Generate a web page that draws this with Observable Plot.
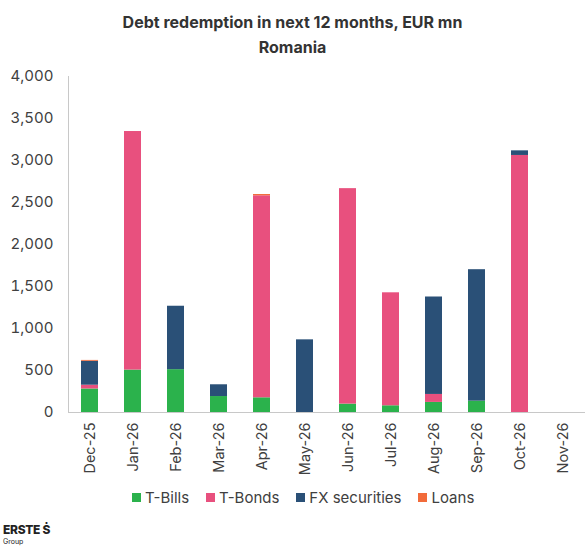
<!DOCTYPE html>
<html>
<head>
<meta charset="utf-8">
<script src="https://cdn.jsdelivr.net/npm/d3@7"></script>
<script src="https://cdn.jsdelivr.net/npm/@observablehq/plot@0.6"></script>
<style>
  html, body { margin: 0; padding: 0; background: #fff; }
  body { width: 585px; height: 560px; position: relative; font-family: Inter, "Open Sans", sans-serif; color: #404040; overflow: hidden; }
  #title { position: absolute; top: 10px; left: 0; width: 585px; text-align: center; font-weight: 700; font-size: 16px; line-height: 25px; color: #333; }
  #chart { position: absolute; top: 60px; left: 0; }
  #legend { position: absolute; top: 488px; left: 132px; font-size: 15px; color: #404040; display: flex; gap: 17px; white-space: nowrap; }
  #legend span.sw { display: inline-block; width: 9px; height: 9px; margin-right: 4px; vertical-align: 1px; }
  #logo { position: absolute; left: 3px; top: 522px; color: #222; }
  #logo .b { font-weight: 800; font-size: 12px; letter-spacing: -0.3px; line-height: 15px; }
  #logo .g { font-size: 7px; line-height: 9px; }
</style>
</head>
<body>
<div id="title">Debt redemption in next 12 months, EUR mn<br>Romania</div>
<div id="chart"></div>
<div id="legend"></div>
<div id="logo"><div class="b">ERSTE Ṡ</div><div class="g">Group</div></div>
<script>
const months = ["Dec-25","Jan-26","Feb-26","Mar-26","Apr-26","May-26","Jun-26","Jul-26","Aug-26","Sep-26","Oct-26","Nov-26"];
const seriesNames = ["T-Bills","T-Bonds","FX securities","Loans"];
const seriesColors = ["#2bb24c","#e8507e","#2a5077","#f26b3a"];
const tBills = [280, 505, 510, 190, 175, 0, 100, 80, 120, 135, 0, 0];
const tBonds = [45, 2840, 0, 0, 2405, 0, 2565, 1345, 95, 0, 3060, 0];
const fxSecurities = [285, 0, 755, 140, 0, 865, 0, 0, 1160, 1565, 55, 0];
const loans = [10, 0, 0, 0, 15, 0, 0, 0, 0, 0, 0, 0];
const yTicks = [0, 500, 1000, 1500, 2000, 2500, 3000, 3500, 4000];

const seriesValues = [tBills, tBonds, fxSecurities, loans];
const data = [];
seriesNames.forEach((s, i) => months.forEach((m, j) => data.push({month: m, series: s, value: seriesValues[i][j]})));

const plot = Plot.plot({
  width: 585,
  height: 420,
  marginLeft: 68,
  marginRight: 1,
  marginTop: 16,
  marginBottom: 68,
  style: {fontFamily: "Inter, 'Open Sans', sans-serif", color: "#404040", background: "transparent"},
  x: {domain: months, paddingInner: 0.6, paddingOuter: 0.3, label: null},
  y: {domain: [0, 4000], label: null},
  color: {domain: seriesNames, range: seriesColors},
  marks: [
    Plot.barY(data, {x: "month", y: "value", fill: "series", order: seriesNames}),
    Plot.frame({anchor: "left", stroke: "#c8c8c8"}),
    Plot.frame({anchor: "bottom", stroke: "#c8c8c8"}),
    Plot.axisY(yTicks, {tickSize: 0, tickPadding: 15, fontSize: 15, tickFormat: d3.format(","), fill: "#404040"}),
    Plot.axisX({tickSize: 0, tickPadding: 10, tickRotate: -90, fontSize: 14.5, fill: "#404040"})
  ]
});
document.getElementById("chart").appendChild(plot);

const legend = document.getElementById("legend");
seriesNames.forEach((s, i) => {
  const item = document.createElement("div");
  item.innerHTML = `<span class="sw" style="background:${seriesColors[i]}"></span>${s}`;
  legend.appendChild(item);
});
</script>
</body>
</html>
